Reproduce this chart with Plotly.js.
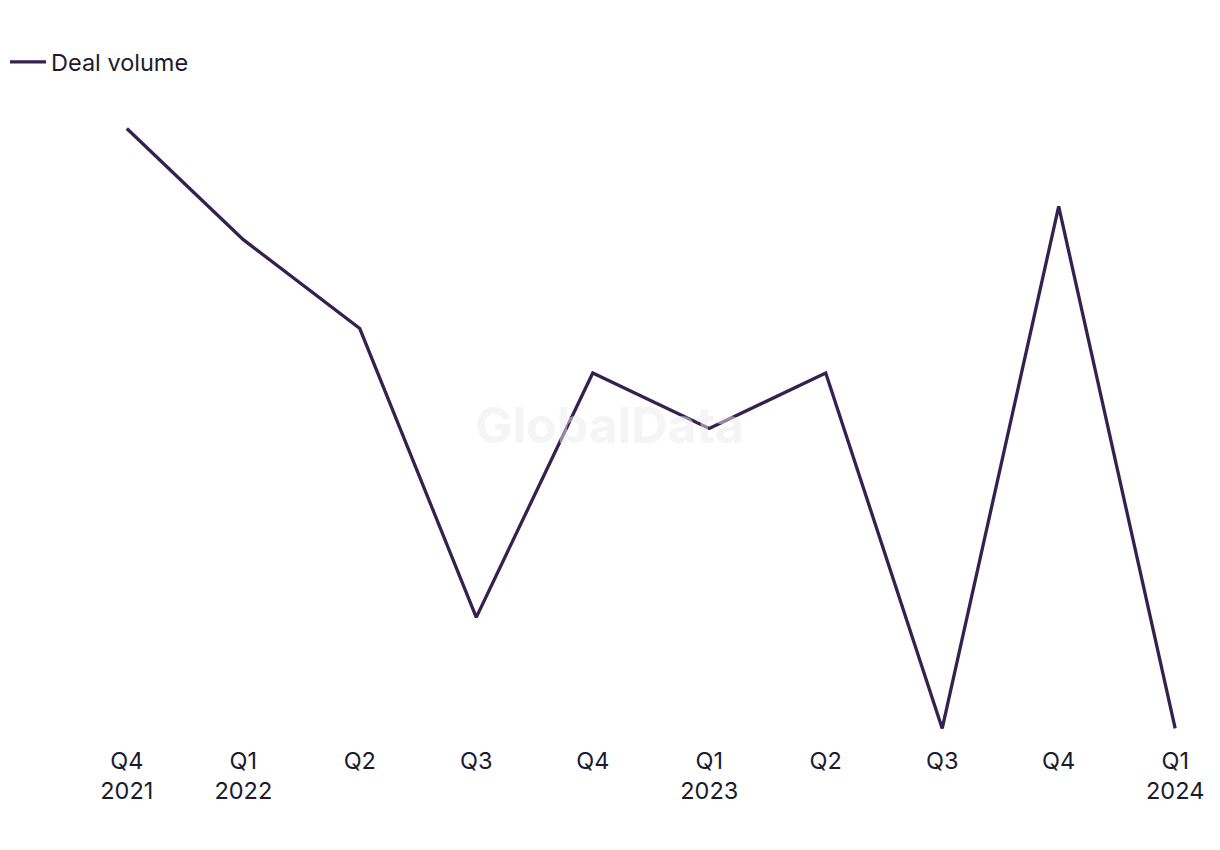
<!DOCTYPE html>
<html>
<head>
<meta charset="utf-8">
<script src="https://cdn.plot.ly/plotly-3.0.1.min.js"></script>
<style>html,body{margin:0;padding:0;background:#fff;}#chart{width:1220px;height:850px;}</style>
</head>
<body>
<div id="chart"></div>
<script>
const quarters = ["Q4 2021","Q1 2022","Q2 2022","Q3 2022","Q4 2022","Q1 2023","Q2 2023","Q3 2023","Q4 2023","Q1 2024"];
const tickLabels = ["Q4<br>2021","Q1<br>2022","Q2","Q3","Q4","Q1<br>2023","Q2","Q3","Q4","Q1<br>2024"];
const dealVolume = [60, 50, 42, 16, 38, 33, 38, 6, 53, 6];

const FONT = "Inter, 'Noto Sans', sans-serif";
const TXT = "#1c1b2e";

const trace = {
  x: quarters,
  y: dealVolume,
  type: "scatter",
  mode: "lines",
  name: "Deal volume",
  line: {color: "#35214f", width: 3.3}
};

const layout = {
  width: 1220, height: 850,
  paper_bgcolor: "#ffffff", plot_bgcolor: "#ffffff",
  margin: {l: 121, r: 39, t: 123, b: 116, autoexpand: false},
  font: {family: FONT, size: 23, color: TXT},
  showlegend: true,
  legend: {
    xref: "container", yref: "container",
    x: 0.0041, y: 0.927, xanchor: "left", yanchor: "middle",
    orientation: "h",
    itemwidth: 36,
    font: {family: FONT, size: 23.5, color: TXT},
    bgcolor: "rgba(0,0,0,0)"
  },
  xaxis: {
    type: "category",
    range: [-0.05, 9.05],
    tickmode: "array",
    tickvals: quarters,
    ticktext: tickLabels,
    showgrid: false, zeroline: false, showline: false,
    ticks: "",
    ticklabelstandoff: 10,
    tickfont: {family: FONT, size: 23.5, color: TXT}
  },
  yaxis: {
    range: [5.5, 60.5],
    visible: false,
    showgrid: false, zeroline: false
  },
  annotations: [{
    text: "<b>GlobalData</b>",
    xref: "paper", yref: "paper", x: 0.461, y: 0.506,
    showarrow: false,
    font: {family: FONT, size: 50, color: "rgba(236,236,236,0.5)"}
  }]
};

Plotly.newPlot("chart", [trace], layout, {displayModeBar: false, staticPlot: true});
</script>
</body>
</html>
